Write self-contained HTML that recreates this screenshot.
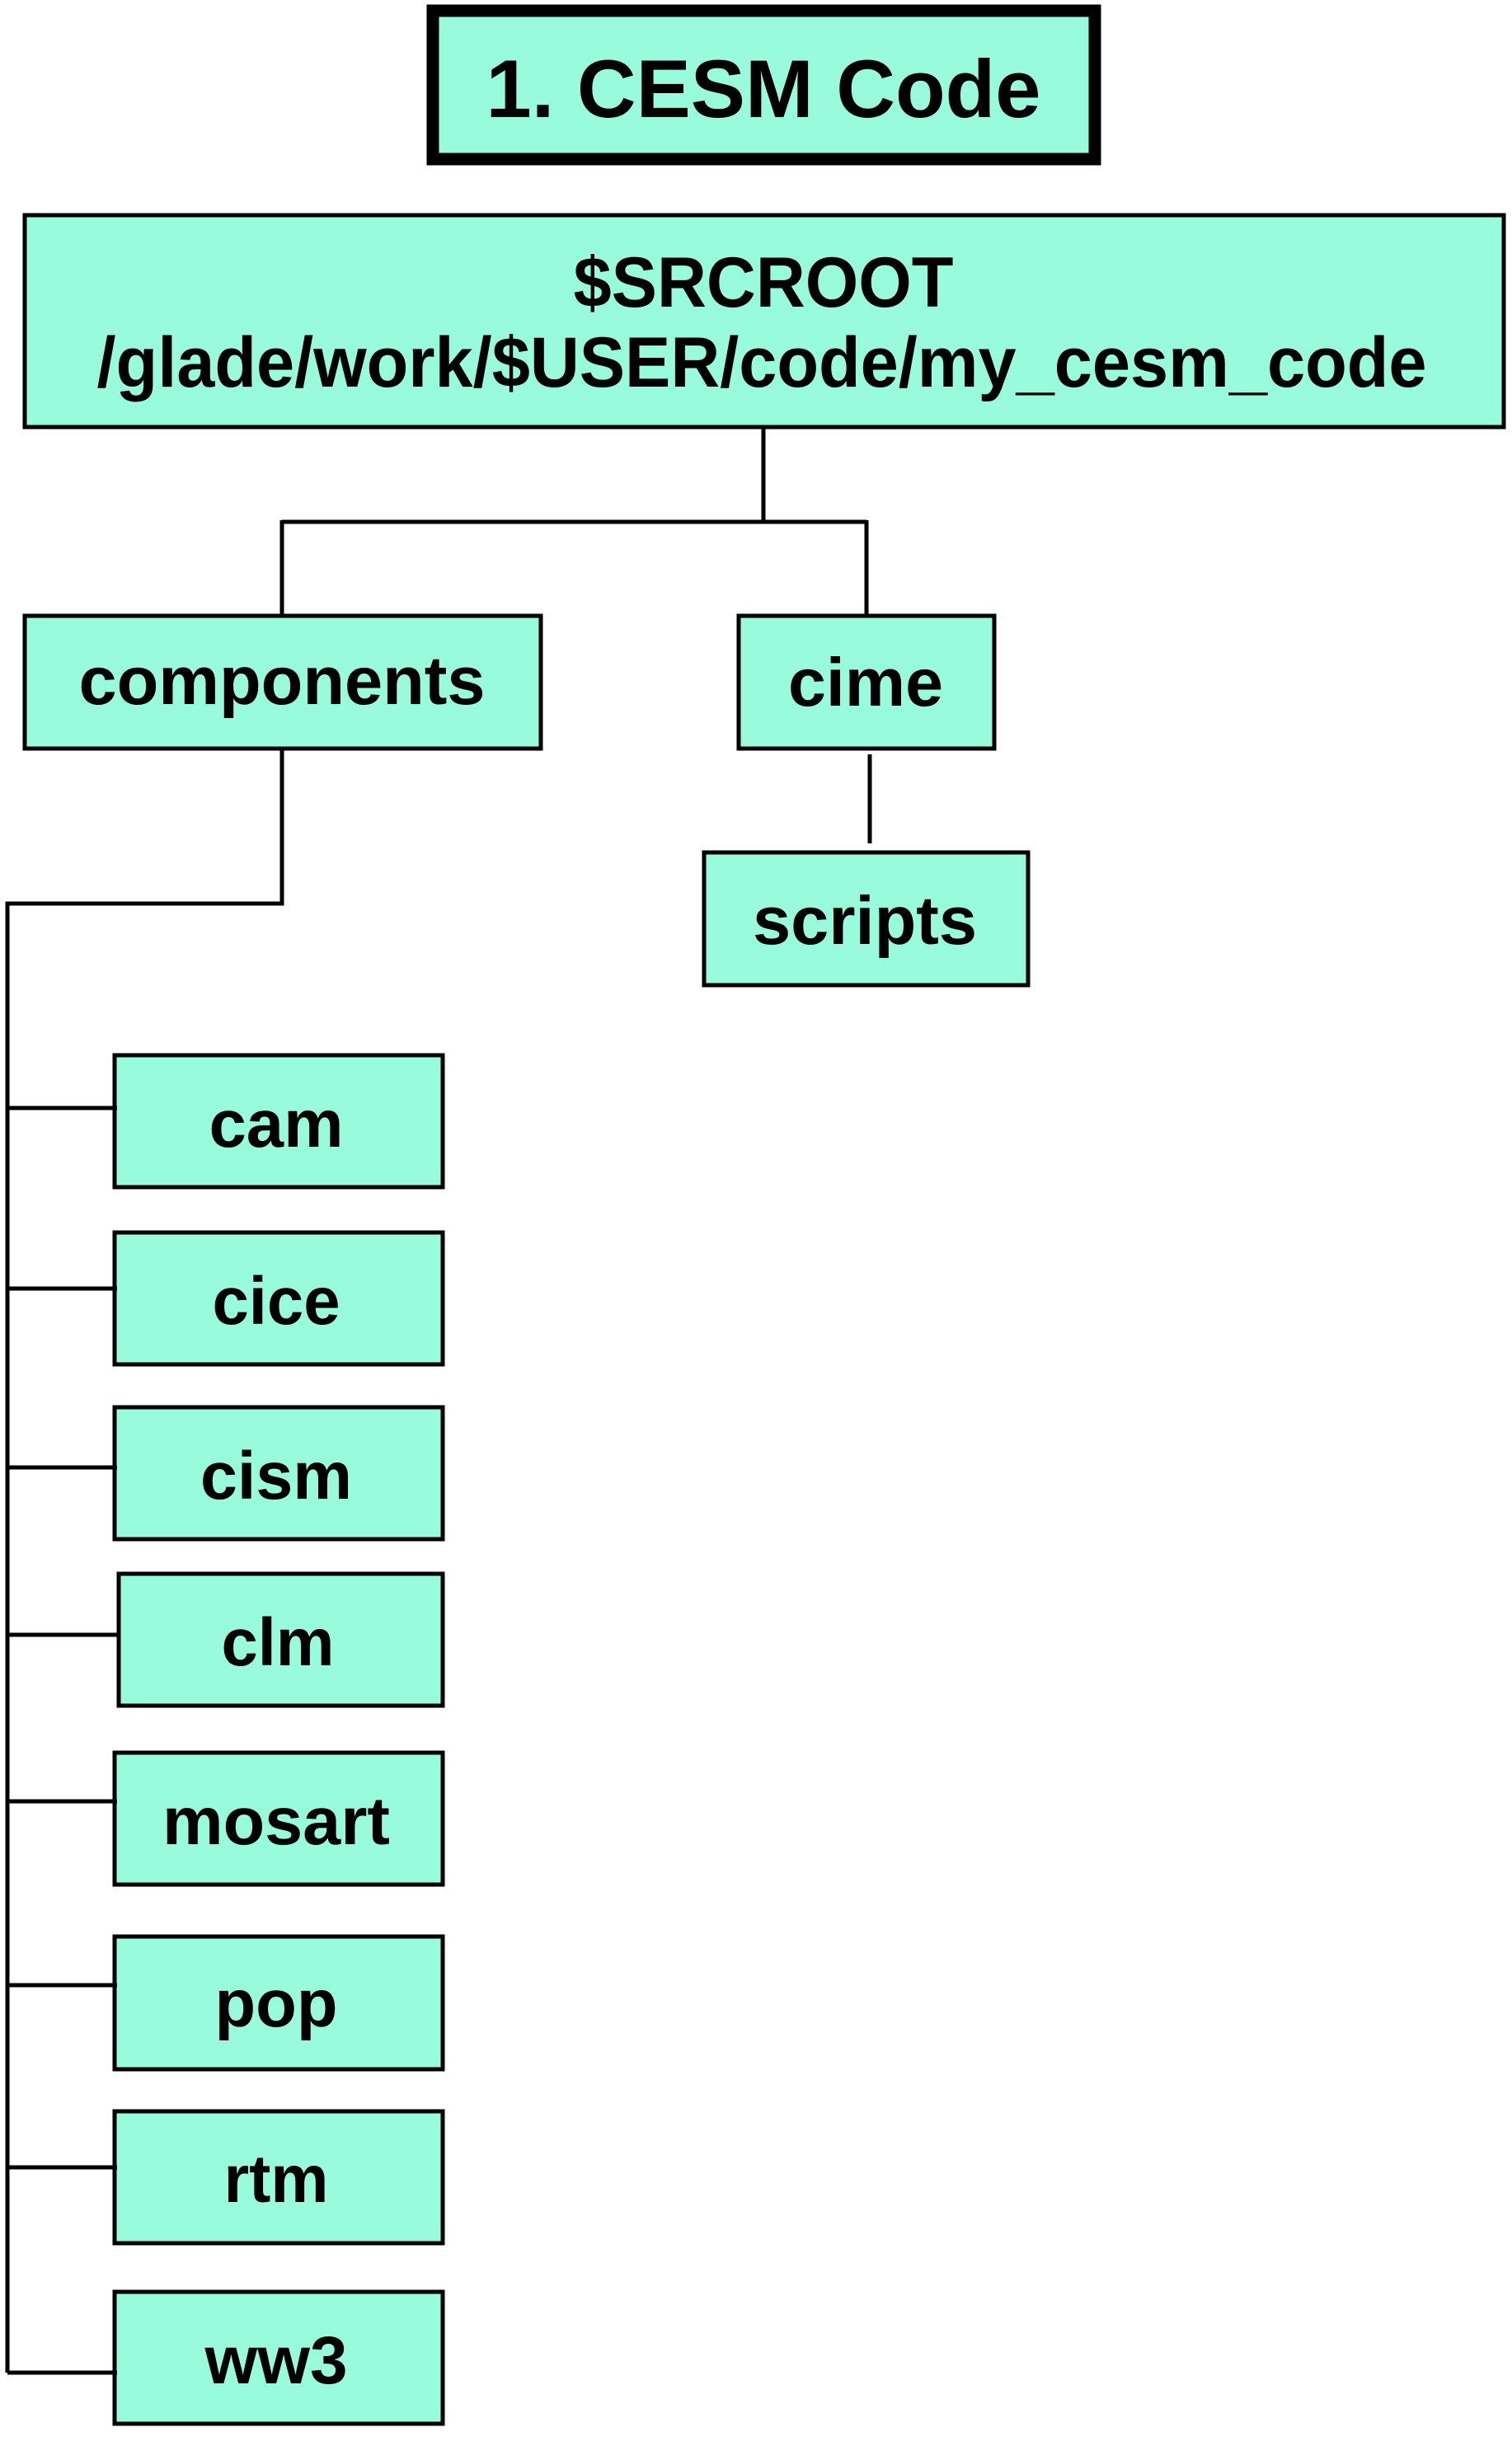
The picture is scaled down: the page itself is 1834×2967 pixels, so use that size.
<!DOCTYPE html>
<html><head><meta charset="utf-8"><style>
html,body{margin:0;padding:0;background:#fff;}
svg{display:block;}
text{font-family:"Liberation Sans",Arial,sans-serif;font-weight:bold;fill:#000;}
</style></head><body>
<svg width="1834" height="2967" viewBox="0 0 1834 2967" xmlns="http://www.w3.org/2000/svg">
<g fill="#98FBDC" stroke="#000">
<rect x="525" y="13" width="803" height="180" stroke-width="15"/>
<rect x="30" y="261" width="1794" height="257" stroke-width="5"/>
<rect x="30" y="747" width="626" height="161" stroke-width="5"/>
<rect x="896" y="747" width="310" height="161" stroke-width="5"/>
<rect x="854" y="1034" width="393" height="161" stroke-width="5"/>
<rect x="139" y="1280" width="398" height="160" stroke-width="5"/>
<rect x="139" y="1495" width="398" height="160" stroke-width="5"/>
<rect x="139" y="1707" width="398" height="160" stroke-width="5"/>
<rect x="144" y="1909" width="393" height="160" stroke-width="5"/>
<rect x="139" y="2126" width="398" height="160" stroke-width="5"/>
<rect x="139" y="2349" width="398" height="161" stroke-width="5"/>
<rect x="139" y="2561" width="398" height="160" stroke-width="5"/>
<rect x="139" y="2780" width="398" height="160" stroke-width="5"/>
</g>
<g fill="none" stroke="#000" stroke-width="5">
<path d="M926 518 V633 M342 633 H1051 M342 631 V747 M1051 631 V747"/>
<path d="M1055 915 V1023"/>
<path d="M342 908 V1096 H9 V2878"/>
<path d="M9 1344 H142 M9 1563 H142 M9 1780 H142 M9 1983 H146 M9 2185 H142 M9 2408 H142 M9 2629 H142 M9 2878 H142"/>
</g>
<text x="926" y="142" font-size="99" text-anchor="middle" textLength="673" lengthAdjust="spacingAndGlyphs">1. CESM Code</text>
<text x="926" y="372" font-size="86" text-anchor="middle" textLength="461" lengthAdjust="spacingAndGlyphs">$SRCROOT</text>
<text x="924" y="469" font-size="86" text-anchor="middle" textLength="1613" lengthAdjust="spacingAndGlyphs">/glade/work/$USER/code/my_cesm_code</text>
<text x="342" y="854" font-size="83" text-anchor="middle" textLength="493" lengthAdjust="spacingAndGlyphs">components</text>
<text x="1050" y="856" font-size="83" text-anchor="middle" textLength="188" lengthAdjust="spacingAndGlyphs">cime</text>
<text x="1049" y="1145" font-size="83" text-anchor="middle" textLength="272" lengthAdjust="spacingAndGlyphs">scripts</text>
<g font-size="82" text-anchor="middle">
<text x="335" y="1391" textLength="163" lengthAdjust="spacingAndGlyphs">cam</text>
<text x="335" y="1606" textLength="155" lengthAdjust="spacingAndGlyphs">cice</text>
<text x="335" y="1818" textLength="184" lengthAdjust="spacingAndGlyphs">cism</text>
<text x="337" y="2020" textLength="137" lengthAdjust="spacingAndGlyphs">clm</text>
<text x="335" y="2237" textLength="276" lengthAdjust="spacingAndGlyphs">mosart</text>
<text x="335" y="2458" textLength="149" lengthAdjust="spacingAndGlyphs">pop</text>
<text x="335" y="2671" textLength="127" lengthAdjust="spacingAndGlyphs">rtm</text>
<text x="335" y="2891" textLength="173" lengthAdjust="spacingAndGlyphs">ww3</text>
</g>
</svg>
</body></html>
